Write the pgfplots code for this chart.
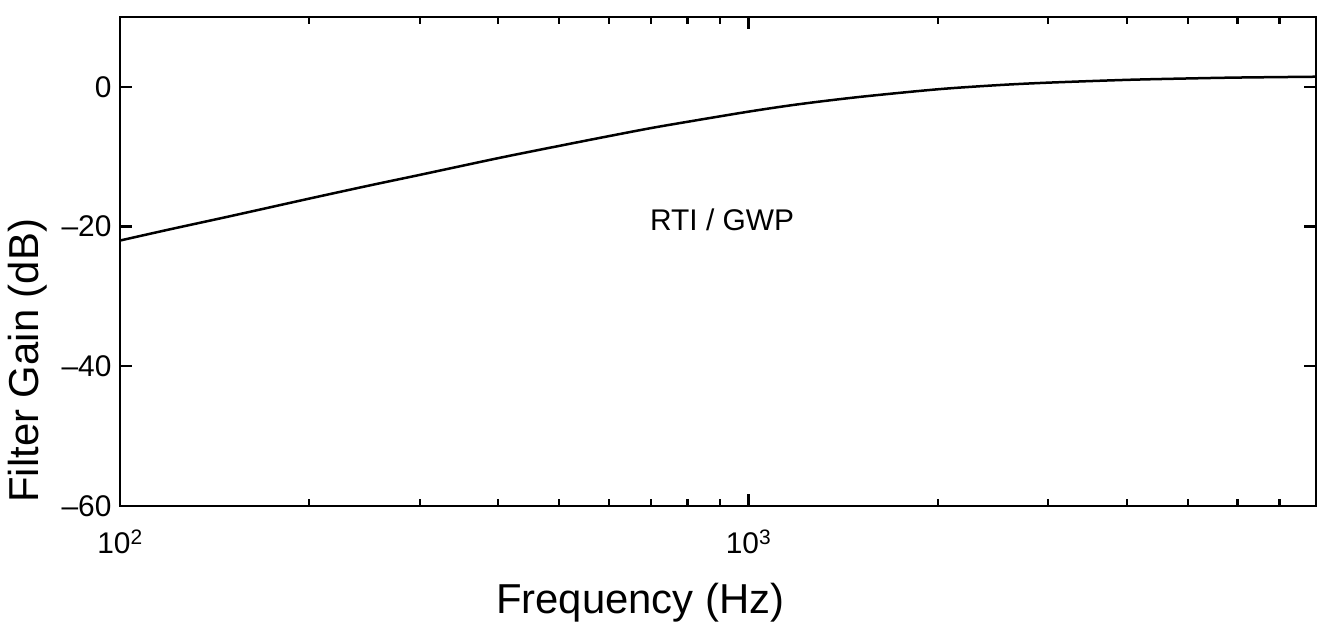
\documentclass[border=0pt]{standalone}
\usepackage{fontspec}
\setmainfont{Liberation Sans}
\usepackage{pgfplots}
\pgfplotsset{compat=1.18}
\begin{document}
\begin{tikzpicture}[x=1bp,y=1bp]
\useasboundingbox (0,0) rectangle (1323,627);
\begin{axis}[
  at={(120bp,121bp)}, anchor=south west,
  scale only axis, width=1196bp, height=489bp,
  xmode=log, xmin=100, xmax=8000, ymin=-60, ymax=10,
  xtick={100,1000}, xticklabels={10\textsuperscript{2},10\textsuperscript{3}},
  minor xtick={200,300,400,500,600,700,800,900,2000,3000,4000,5000,6000,7000},
  ytick={-60,-40,-20,0}, yticklabels={--60,--40,--20,0},
  tick align=inside, major tick length=12bp, minor tick length=7bp,
  every tick/.style={black, line width=2.2bp},
  axis line style={line width=2.5bp},
  ticklabel style={font=\fontsize{30}{36}\selectfont},
  xticklabel style={yshift=-20bp},
  yticklabel style={xshift=-5bp},
  xlabel={Frequency (Hz)},
  ylabel={Filter Gain (dB)},
  label style={font=\fontsize{42}{50}\selectfont},
  xlabel style={at={(axis description cs:0.435,-0.198)}, anchor=center},
  ylabel style={at={(axis description cs:-0.0769,0.297)}, anchor=center},
]
\addplot[black, line width=2.5bp, smooth] coordinates {
(100,-22.0) (120,-20.4) (150,-18.5) (200,-16.0) (250,-14.1) (300,-12.6)
(400,-10.2) (500,-8.45) (600,-7.05) (700,-5.9) (800,-5.0) (1000,-3.55)
(1200,-2.5) (1500,-1.45) (2000,-0.35) (2500,0.25) (3000,0.6) (4000,1.0)
(5000,1.2) (6000,1.33) (8000,1.45)
};
\node[font=\fontsize{30}{36}\selectfont] at (axis cs:908,-19.1) {RTI / GWP};
\end{axis}
\end{tikzpicture}
\end{document}
